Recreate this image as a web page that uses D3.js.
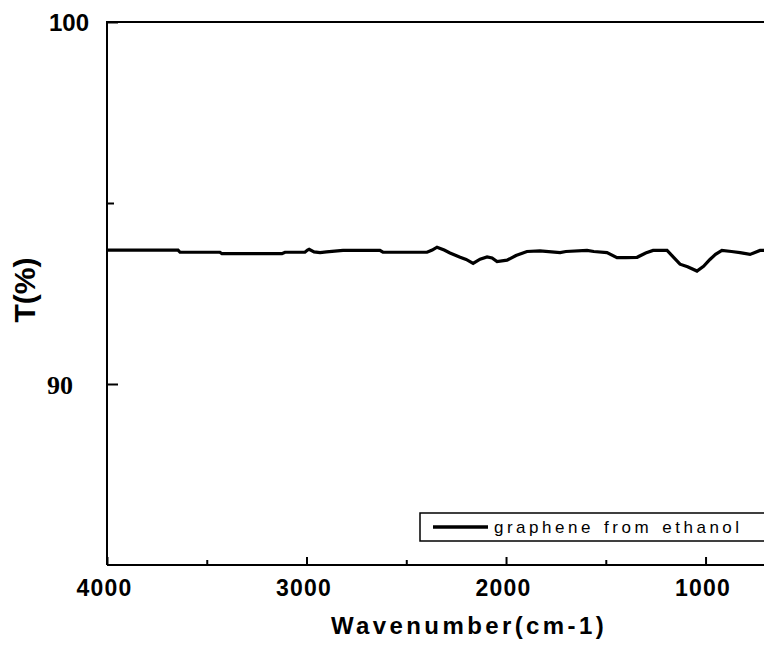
<!DOCTYPE html>
<html>
<head>
<meta charset="utf-8">
<script src="https://cdn.jsdelivr.net/npm/d3@7"></script>
<style>
  html, body { margin: 0; padding: 0; background: #fff; overflow: hidden; }
  svg { display: block; }
</style>
</head>
<body>
<svg id="chart" width="764" height="645"></svg>
<script>
// ---- data ----
const wavenumber = [4000, 3644, 3634, 3434, 3424, 3123, 3108, 3008, 2995, 2987, 2962, 2932, 2900, 2817, 2632, 2617, 2396, 2370, 2346, 2310, 2281, 2230, 2200, 2165, 2130, 2095, 2070, 2045, 1995, 1950, 1895, 1830, 1729, 1700, 1594, 1560, 1494, 1444, 1400, 1343, 1300, 1263, 1193, 1160, 1128, 1090, 1043, 1010, 978, 950, 918, 870, 827, 777, 727, 700];
const transmittance = [93.70, 93.70, 93.64, 93.64, 93.60, 93.60, 93.64, 93.64, 93.70, 93.72, 93.65, 93.63, 93.65, 93.69, 93.69, 93.64, 93.64, 93.70, 93.78, 93.70, 93.62, 93.50, 93.44, 93.33, 93.45, 93.51, 93.48, 93.38, 93.42, 93.55, 93.66, 93.68, 93.63, 93.66, 93.69, 93.66, 93.63, 93.49, 93.49, 93.50, 93.62, 93.69, 93.69, 93.50, 93.31, 93.24, 93.12, 93.25, 93.44, 93.58, 93.69, 93.66, 93.63, 93.58, 93.69, 93.69];
const xMajorTicks = [4000, 3000, 2000, 1000];
const xMinorTicks = [3500, 2500, 1500];
const yMajorTicks = [90, 100];
const yMinorTicks = [95];
const seriesName = "graphene from ethanol";
const xTitle = "Wavenumber(cm-1)";
const yTitle = "T(%)";

(function () {
// ---- layout ----
const pLeft = 107, pTop = 22, pBottom = 565, pRight = 765.4;
const svg = d3.select("#chart");

const x = d3.scaleLinear().domain([4000, 700]).range([pLeft, pRight]);
const y = d3.scaleLinear().domain([85, 100]).range([pBottom, pTop]);

// frame (left, top, bottom lines; right edge is off-page)
svg.append("path")
  .attr("d", `M${pLeft},${pBottom}V${pTop}H${pRight + 40}M${pLeft},${pBottom}H${pRight + 40}`)
  .attr("fill", "none").attr("stroke", "#000").attr("stroke-width", 2);

// x axis ticks (inward)
const gx = svg.append("g").attr("transform", `translate(0,${pBottom})`);
gx.call(d3.axisBottom(x).tickValues(xMajorTicks).tickSize(-8).tickFormat(d3.format("d")));
const gxm = svg.append("g").attr("transform", `translate(0,${pBottom})`);
gxm.call(d3.axisBottom(x).tickValues(xMinorTicks).tickSize(-5).tickFormat(""));
[gx, gxm].forEach(g => {
  g.select(".domain").remove();
  g.selectAll(".tick line").attr("stroke", "#000").attr("stroke-width", 2);
});
gx.selectAll(".tick text")
  .attr("y", 31).attr("dy", 0).attr("dx", -3)
  .attr("font-family", "'Liberation Sans', Arial, sans-serif")
  .attr("font-weight", "bold").attr("font-size", 23)
  .attr("letter-spacing", 1.2)
  .attr("fill", "#000");

// y axis ticks (inward)
const gy = svg.append("g").attr("transform", `translate(${pLeft},0)`);
gy.call(d3.axisLeft(y).tickValues(yMajorTicks).tickSize(-11).tickFormat(d3.format("d")));
const gym = svg.append("g").attr("transform", `translate(${pLeft},0)`);
gym.call(d3.axisLeft(y).tickValues(yMinorTicks).tickSize(-7).tickFormat(""));
[gy, gym].forEach(g => {
  g.select(".domain").remove();
  g.selectAll(".tick line").attr("stroke", "#000").attr("stroke-width", 2);
});
gy.selectAll(".tick text")
  .attr("fill", "#000")
  .attr("font-weight", "bold")
  .attr("dy", "0.36em")
  .each(function(d) {
    const t = d3.select(this);
    if (d === 90) {
      t.attr("x", -34).attr("font-family", "'Liberation Serif', 'Times New Roman', serif").attr("font-size", 26);
    } else {
      t.attr("x", -18).attr("font-family", "'Liberation Sans', Arial, sans-serif").attr("font-size", 24);
    }
  });

// line
const line = d3.line().x((d, i) => x(wavenumber[i])).y(d => y(d));
svg.append("path")
  .datum(transmittance)
  .attr("d", line)
  .attr("fill", "none").attr("stroke", "#000")
  .attr("stroke-width", 3.2).attr("stroke-linejoin", "miter");

// legend
const lg = svg.append("g");
lg.append("rect").attr("x", 420).attr("y", 513).attr("width", 400).attr("height", 28)
  .attr("fill", "#fff").attr("stroke", "#000").attr("stroke-width", 1.5);
lg.append("line").attr("x1", 433).attr("x2", 488).attr("y1", 527).attr("y2", 527)
  .attr("stroke", "#000").attr("stroke-width", 3.5);
lg.append("text").attr("x", 494).attr("y", 533)
  .attr("font-family", "'Liberation Sans', Arial, sans-serif").attr("font-size", 17)
  .attr("letter-spacing", 3.5).attr("word-spacing", 2)
  .attr("fill", "#000").text(seriesName);

// axis titles
svg.append("text").attr("x", 469).attr("y", 634).attr("text-anchor", "middle")
  .attr("font-family", "'Liberation Sans', Arial, sans-serif").attr("font-weight", "bold")
  .attr("font-size", 24).attr("letter-spacing", 3.4).attr("fill", "#000").text(xTitle);
svg.append("text").attr("transform", "translate(35,290) rotate(-90)").attr("text-anchor", "middle")
  .attr("font-family", "'Liberation Sans', Arial, sans-serif").attr("font-weight", "bold")
  .attr("font-size", 30).attr("fill", "#000").text(yTitle);
})();
</script>
</body>
</html>
